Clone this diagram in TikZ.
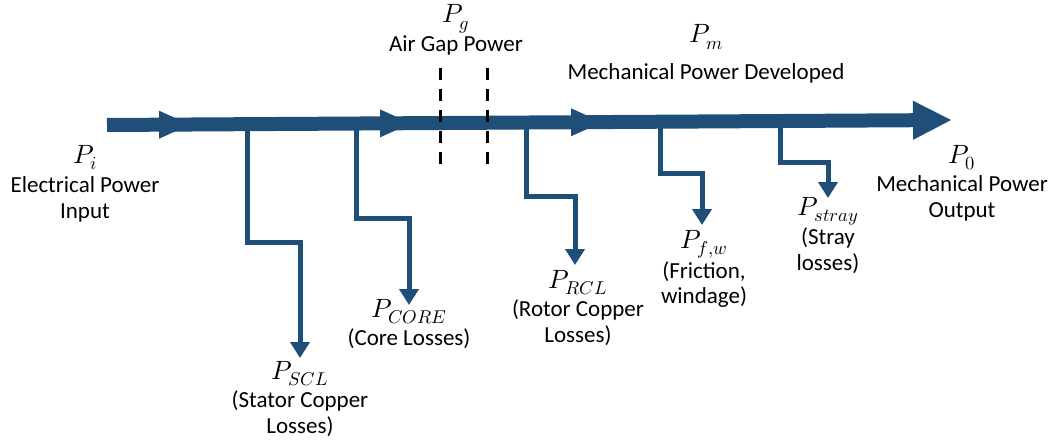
\documentclass[tikz,border=0pt]{standalone}
\usepackage{fontspec}
\usepackage{unicode-math}
\setmainfont{Carlito}
\setmathfont{Latin Modern Math}[Scale=1.15]
\usetikzlibrary{arrows.meta}
\definecolor{flow}{HTML}{1F4E79}
\begin{document}
\begin{tikzpicture}[x=1pt,y=-1pt,
  lbl/.style={anchor=base,inner sep=0pt,font=\fontsize{23}{26}\selectfont},
  branch/.style={draw=flow,line width=5pt,line join=miter,-{Triangle[width=19pt,length=16pt]}},
  mainflow/.style={draw=flow,line width=14pt,-{Triangle[width=36pt,length=39pt]}},
  midtip/.style={fill=flow},
  gapline/.style={draw=black,line width=3pt,dash pattern=on 12pt off 9pt}]
\useasboundingbox (0,0) rectangle (1056,441);

% coordinates of main flow
\coordinate (start) at (107,125);
\coordinate (end) at (952,120);

% branch coordinates
\coordinate (s1) at (247,124.2); \coordinate (j1) at (300,242); \coordinate (t1) at (300,358);
\coordinate (s2) at (356,123.5); \coordinate (j2) at (409,218); \coordinate (t2) at (409,305);
\coordinate (s3) at (526,122.5); \coordinate (j3) at (575,196); \coordinate (t3) at (575,265);
\coordinate (s4) at (660,121.7); \coordinate (j4) at (702,173); \coordinate (t4) at (702,225);
\coordinate (s5) at (780,121.0); \coordinate (j5) at (828,162); \coordinate (t5) at (828,198);

% branches
\draw[branch] (s1) |- (j1) -- (t1);
\draw[branch] (s2) |- (j2) -- (t2);
\draw[branch] (s3) |- (j3) -- (t3);
\draw[branch] (s4) |- (j4) -- (t4);
\draw[branch] (s5) |- (j5) -- (t5);

% main flow
\draw[mainflow] (start) -- (end);
\fill[midtip] (159,110.7) -- (190,124.7) -- (159,138.7) -- cycle;
\fill[midtip] (380,109.4) -- (411,123.4) -- (380,137.4) -- cycle;
\fill[midtip] (571,108.3) -- (602,122.3) -- (571,136.3) -- cycle;

% air gap dashed lines
\coordinate (d1a) at (440,68); \coordinate (d1b) at (440,172);
\coordinate (d2a) at (487,68); \coordinate (d2b) at (487,172);
\draw[gapline] (d1a) -- (d1b);
\draw[gapline] (d2a) -- (d2b);

% labels
\node[lbl] (pi) at (85,163) {$P_i$};
\node[lbl] (pi1) at (85,192) {Electrical Power};
\node[lbl] (pi2) at (85,218) {Input};

\node[lbl] (pg) at (456,23) {$P_g$};
\node[lbl] (pg1) at (456,52) {Air Gap Power};

\node[lbl] (pm) at (706,43) {$P_m$};
\node[lbl] (pm1) at (706,80) {Mechanical Power Developed};

\node[lbl] (p0) at (962,163) {$P_0$};
\node[lbl] (p01) at (962,191) {Mechanical Power};
\node[lbl] (p02) at (962,217) {Output};

\node[lbl] (scl) at (300,379) {$P_{SCL}$};
\node[lbl] (scl1) at (300,407) {(Stator Copper};
\node[lbl] (scl2) at (300,433) {Losses)};

\node[lbl] (core) at (409,317) {$P_{CORE}$};
\node[lbl] (core1) at (409,345) {(Core Losses)};

\node[lbl] (rcl) at (578,288) {$P_{RCL}$};
\node[lbl] (rcl1) at (578,316) {(Rotor Copper};
\node[lbl] (rcl2) at (578,342) {Losses)};

\node[lbl] (fw) at (704,248) {$P_{f,w}$};
\node[lbl] (fw1) at (704,278) {(Friction,};
\node[lbl] (fw2) at (704,303) {windage)};

\node[lbl] (st) at (828,215) {$P_{stray}$};
\node[lbl] (st1) at (828,244) {(Stray};
\node[lbl] (st2) at (828,270) {losses)};
\end{tikzpicture}
\end{document}
